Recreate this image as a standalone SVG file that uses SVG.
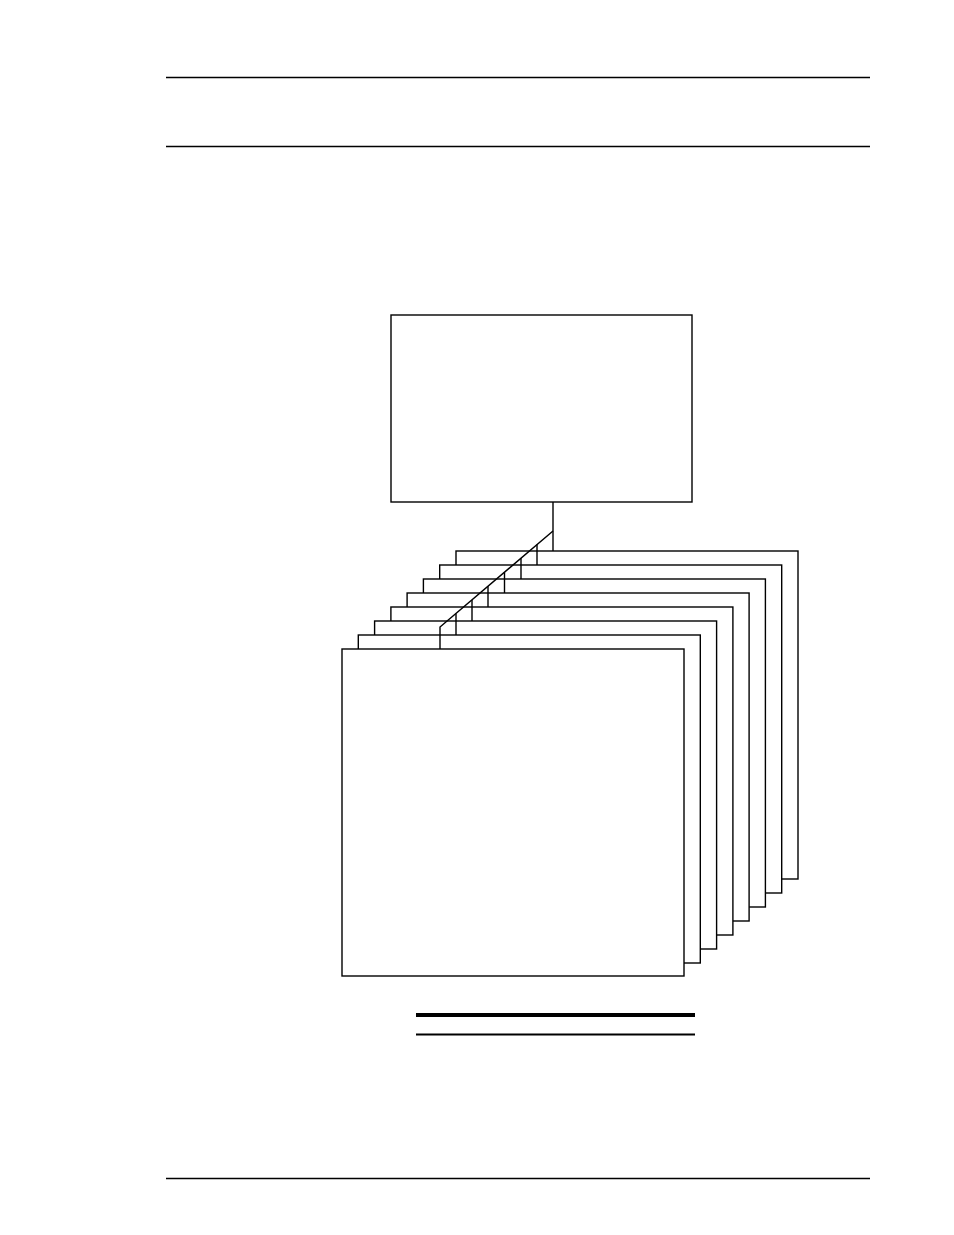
<svg xmlns="http://www.w3.org/2000/svg" width="954" height="1235" viewBox="0 0 954 1235">
<style>
.rule{stroke:#000;stroke-width:1.3;fill:none}
.box{fill:#fff;stroke:#000;stroke-width:1.4}
.wire{stroke:#000;stroke-width:1.4;fill:none}
</style>
<rect width="954" height="1235" fill="#fff"/>
<g id="page-rules">
<line class="rule" x1="166" y1="77.5" x2="870" y2="77.5"/>
<line class="rule" x1="166" y1="146.5" x2="870" y2="146.5"/>
<line class="rule" x1="166" y1="1178.5" x2="870" y2="1178.5"/>
</g>
<g id="top-box"><rect class="box" x="391" y="315" width="301" height="187"/></g>
<g id="card-8"><rect class="box" x="456" y="551" width="342" height="328"/></g>
<g id="card-7"><rect class="box" x="439.7" y="565" width="342" height="328"/></g>
<g id="card-6"><rect class="box" x="423.4" y="579" width="342" height="328"/></g>
<g id="card-5"><rect class="box" x="407.1" y="593" width="342" height="328"/></g>
<g id="card-4"><rect class="box" x="390.9" y="607" width="342" height="328"/></g>
<g id="card-3"><rect class="box" x="374.6" y="621" width="342" height="328"/></g>
<g id="card-2"><rect class="box" x="358.3" y="635" width="342" height="328"/></g>
<g id="card-1"><rect class="box" x="342" y="649" width="342" height="327"/></g>
<g id="connectors">
<polyline class="wire" points="553,502 553,551"/>
<polyline class="wire" points="553,531 440,627 440,649"/>
<line class="wire" x1="537" y1="544.6" x2="537" y2="565"/>
<line class="wire" x1="521" y1="558.2" x2="521" y2="579"/>
<line class="wire" x1="504.5" y1="572.2" x2="504.5" y2="593"/>
<line class="wire" x1="488" y1="586.3" x2="488" y2="607"/>
<line class="wire" x1="472" y1="599.9" x2="472" y2="621"/>
<line class="wire" x1="456" y1="613.4" x2="456" y2="635"/>
</g>
<g id="caption-rules">
<line x1="416" y1="1015" x2="695" y2="1015" stroke="#000" stroke-width="4"/>
<line x1="416" y1="1034.5" x2="695" y2="1034.5" stroke="#000" stroke-width="2"/>
</g>
</svg>
